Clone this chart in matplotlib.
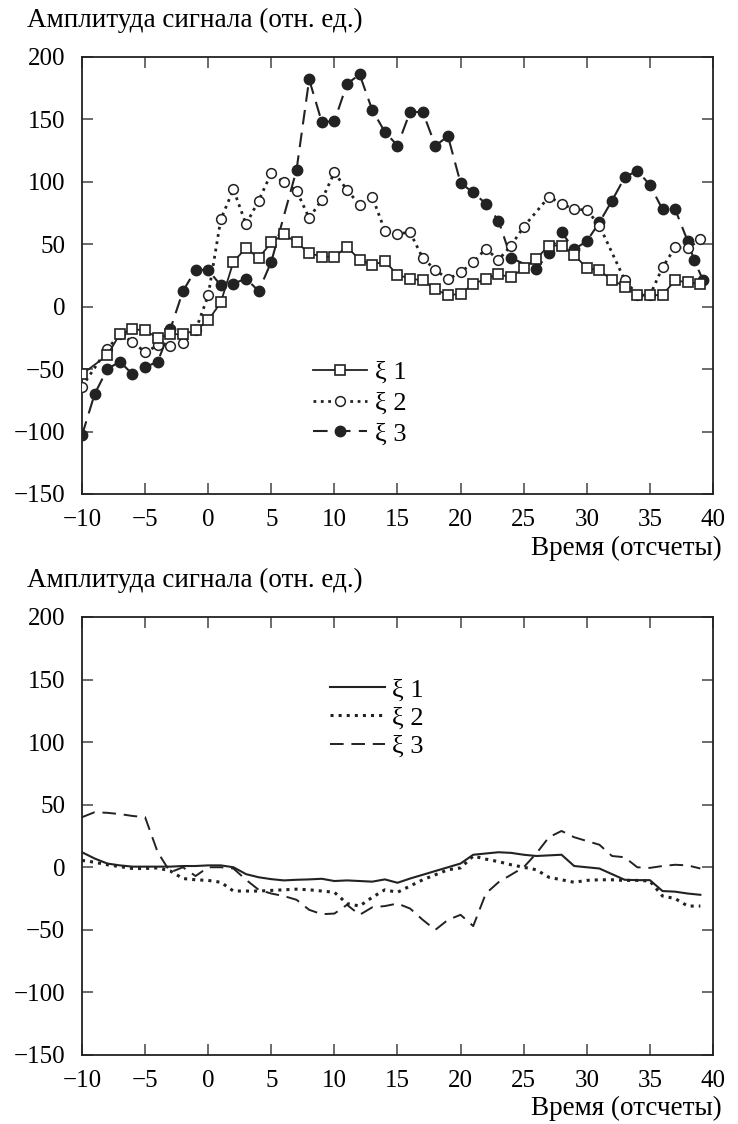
import matplotlib
matplotlib.use("Agg")
from matplotlib import pyplot as plt

# top panel: values read at each visible marker
t1 = [-10, -8, -7, -6, -5, -4, -3, -2, -1, 0, 1, 2, 3, 4, 5, 6, 7, 8, 9, 10,
      11, 12, 13, 14, 15, 16, 17, 18, 19, 20, 21, 22, 23, 24, 25, 26, 27, 28, 29, 30,
      31, 32, 33, 34, 35, 36, 37, 38, 39]
xi1 = [-54, -39, -22, -18, -19, -25, -22, -22, -19, -11, 3.5, 36, 47, 39, 51.5, 58, 51.5, 43, 40, 40,
       48, 37.5, 33.5, 36.5, 25.5, 22.5, 21, 14, 9, 10.5, 18, 22.5, 26, 23.5, 31, 38.5, 49, 49, 41.5, 31,
       29, 21.5, 16, 9.5, 9, 9.5, 21, 19.5, 18.5]

t2 = [-10, -8, -7, -6, -5, -4, -3, -2, -1, 0, 1, 2, 3, 4, 5, 6, 7, 8, 9, 10,
      11, 12, 13, 14, 15, 16, 17, 18, 19, 20, 21, 22, 23, 24, 25, 27, 28, 29, 30,
      31, 33, 34, 35, 36, 37, 38, 39]
xi2 = [-64, -34, -22, -28, -36.5, -31, -31.5, -29, -19, 9, 70, 94, 66, 85, 107, 99.5, 93, 71, 85.5, 107.5,
       93.5, 81.5, 88, 61, 58.5, 59.5, 39, 29.5, 22, 27.5, 35.5, 46.5, 37.5, 49, 64, 88, 82.5, 78, 77.5,
       65, 21.5, 9.5, 9, 31.5, 47.5, 47, 54]

t3 = [-10, -9, -8, -7, -6, -5, -4, -3, -2, -1, 0, 1, 2, 3, 4, 5, 7, 8, 9, 10,
      11, 12, 13, 14, 15, 16, 17, 18, 19, 20, 21, 22, 23, 24, 26, 27, 28, 29, 30,
      31, 32, 33, 34, 35, 36, 37, 38, 38.5, 39.2]
xi3 = [-103, -70, -50, -44, -54, -48.5, -44, -18, 12.5, 29.5, 29.5, 17, 18.5, 22.5, 12.5, 36, 109.5, 182, 148, 148.5,
       178.5, 186, 157.5, 140, 129, 156, 156, 129, 136.5, 99, 91.5, 82.5, 69, 39, 30, 43, 59.5, 46, 52.5,
       67.5, 85, 103.5, 109, 97.5, 78, 78, 52.5, 37.5, 21.5]

# bottom panel
tb = list(range(-10, 40))
b1 = [12, 7, 3, 1.5, 0.5, 0.5, 0.5, 0.5, 1, 1, 1.5, 1.5, 0, -5.5, -8, -9.5, -10.5, -10, -9.7, -9.2,
      -11, -10.5, -11, -11.5, -9.7, -12.4, -9, -6, -3, 0, 3, 10, 11, 12, 11.5, 10, 9, 9.5, 10, 1,
      0, -1, -5.5, -10, -10.3, -10.3, -19, -19.5, -21, -22]
b2 = [5.5, 4, 2, 0.5, -1, -1, -0.5, -3, -9, -10, -10.5, -12, -19, -19, -19, -18.5, -18, -17.5, -18, -19,
      -20, -29, -31, -24, -18, -20, -15, -10, -6, -2, -0.5, 9, 6.5, 4.5, 2, 0, -2, -8, -10, -12,
      -10.5, -10, -10, -10.5, -10.5, -11, -23, -25, -31, -31]
b3 = [40, 44, 43.5, 42.5, 41, 40, 12, -4, 0, -7, 0, 0, -1, -10, -18, -21, -23, -26, -34, -37.5,
      -37, -30, -38, -32, -31, -29, -33, -42, -50, -42, -38, -47, -21, -12, -6, 0, 11, 24, 29, 24,
      21, 18, 9, 8, 0, -0.5, 1, 2, 1.5, -1]

ylabel = "Амплитуда сигнала (отн. ед.)"
xlabel = "Время (отсчеты)"
names = ["ξ 1", "ξ 2", "ξ 3"]

plt.rcParams['font.family'] = ['Liberation Serif', 'DejaVu Serif']
plt.rcParams['axes.unicode_minus'] = True

fig = plt.figure(figsize=(7.38, 11.24), dpi=100)
ax1 = fig.add_axes([0.1111, 0.5605, 0.855, 0.3888])
ax2 = fig.add_axes([0.1111, 0.0614, 0.855, 0.3897])

ink = '#222222'
ax1.plot(t1, xi1, '-', color=ink, lw=1.3, marker='s', ms=7.5, mfc='white', mec=ink, mew=1.2, label=names[0], zorder=4)
ax1.plot(t2, xi2, ':', color=ink, lw=2.0, marker='o', ms=7, mfc='white', mec=ink, mew=1.1, label=names[1], zorder=3)
ax1.plot(t3, xi3, color=ink, lw=1.5, dashes=(7, 4), marker='o', ms=7.5, mfc=ink, mec=ink, label=names[2], zorder=2)

ax2.plot(tb, b1, '-', color=ink, lw=1.5, label=names[0])
ax2.plot(tb, b2, ':', color=ink, lw=2.2, label=names[1])
ax2.plot(tb, b3, color=ink, lw=1.4, dashes=(7, 4), label=names[2])

for ax in (ax1, ax2):
    ax.set_xlim(-10, 40)
    ax.set_ylim(-150, 200)
    ax.set_xticks(range(-10, 41, 5))
    ax.set_yticks(range(-150, 201, 50))
    ax.tick_params(direction='in', length=8, width=1.1, top=True, right=True,
                   labelsize=18, color='#444444')
    ax.tick_params(axis='x', pad=11)
    ax.tick_params(axis='y', pad=12)
    for s in ax.spines.values():
        s.set_linewidth(1.3)
        s.set_color(ink)

fig.text(0.037, 0.982, ylabel, ha='left', va='center', fontsize=19.5)
fig.text(0.978, 0.512, xlabel, ha='right', va='center', fontsize=19.5)
fig.text(0.037, 0.484, ylabel, ha='left', va='center', fontsize=19.5)
fig.text(0.978, 0.014, xlabel, ha='right', va='center', fontsize=19.5)

ax1.legend(loc='upper left', bbox_to_anchor=(0.366, 0.3055), frameon=False, fontsize=19,
           handlelength=2.05, labelspacing=0.28, handletextpad=0.3, borderpad=0, borderaxespad=0)
ax2.legend(loc='upper left', bbox_to_anchor=(0.393, 0.861), frameon=False, fontsize=19,
           handlelength=2.1, labelspacing=0.18, handletextpad=0.25, borderpad=0, borderaxespad=0)

fig.savefig('out.png', dpi=100)
